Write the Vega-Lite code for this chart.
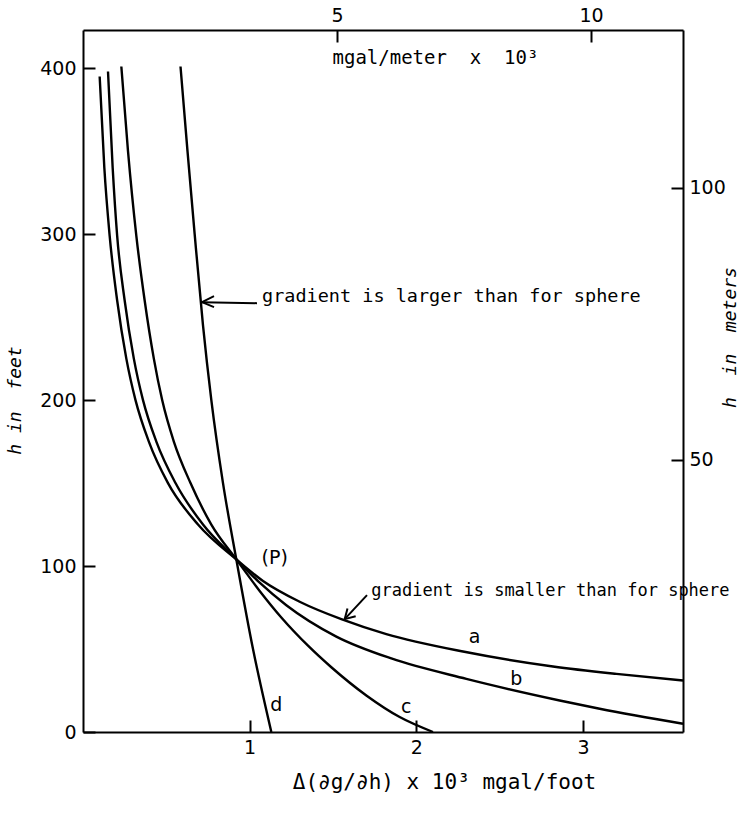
{
  "$schema": "https://vega.github.io/schema/vega-lite/v6.json",
  "width": 600,
  "height": 702,
  "autosize": {"type": "none"},
  "padding": {"left": 83, "top": 30, "right": 56, "bottom": 82},
  "background": "white",
  "config": {
    "view": {"stroke": null},
    "axis": {
      "domainColor": "black", "domainWidth": 2,
      "tickColor": "black", "tickWidth": 2, "tickSize": -12,
      "grid": false,
      "labelFont": "DejaVu Sans", "labelFontSize": 19, "labelColor": "black",
      "titleFont": "DejaVu Sans Mono", "titleFontSize": 19, "titleFontWeight": "normal", "titleColor": "black"
    }
  },
  "datasets": {
    "curves": [
      {"curve": "a", "x": 0.10, "h": 395}, {"curve": "a", "x": 0.128, "h": 340}, {"curve": "a", "x": 0.16, "h": 299},
      {"curve": "a", "x": 0.205, "h": 260}, {"curve": "a", "x": 0.26, "h": 225}, {"curve": "a", "x": 0.315, "h": 200},
      {"curve": "a", "x": 0.395, "h": 175}, {"curve": "a", "x": 0.51, "h": 150}, {"curve": "a", "x": 0.69, "h": 125},
      {"curve": "a", "x": 0.92, "h": 104}, {"curve": "a", "x": 1.08, "h": 91}, {"curve": "a", "x": 1.30, "h": 78.5},
      {"curve": "a", "x": 1.55, "h": 68}, {"curve": "a", "x": 1.82, "h": 59}, {"curve": "a", "x": 2.28, "h": 48.5},
      {"curve": "a", "x": 2.82, "h": 39.5}, {"curve": "a", "x": 3.2, "h": 35}, {"curve": "a", "x": 3.6, "h": 31},
      {"curve": "b", "x": 0.15, "h": 398}, {"curve": "b", "x": 0.178, "h": 340}, {"curve": "b", "x": 0.205, "h": 299},
      {"curve": "b", "x": 0.25, "h": 260}, {"curve": "b", "x": 0.305, "h": 225}, {"curve": "b", "x": 0.36, "h": 200},
      {"curve": "b", "x": 0.44, "h": 175}, {"curve": "b", "x": 0.555, "h": 150}, {"curve": "b", "x": 0.72, "h": 125},
      {"curve": "b", "x": 0.92, "h": 104}, {"curve": "b", "x": 1.06, "h": 90}, {"curve": "b", "x": 1.22, "h": 76.4},
      {"curve": "b", "x": 1.52, "h": 57.5}, {"curve": "b", "x": 1.85, "h": 44.3}, {"curve": "b", "x": 2.3, "h": 32},
      {"curve": "b", "x": 2.86, "h": 19}, {"curve": "b", "x": 3.1, "h": 14}, {"curve": "b", "x": 3.6, "h": 5},
      {"curve": "c", "x": 0.23, "h": 401}, {"curve": "c", "x": 0.27, "h": 350}, {"curve": "c", "x": 0.32, "h": 299},
      {"curve": "c", "x": 0.37, "h": 260}, {"curve": "c", "x": 0.425, "h": 225}, {"curve": "c", "x": 0.475, "h": 200},
      {"curve": "c", "x": 0.545, "h": 175}, {"curve": "c", "x": 0.645, "h": 150}, {"curve": "c", "x": 0.77, "h": 125},
      {"curve": "c", "x": 0.92, "h": 104}, {"curve": "c", "x": 1.06, "h": 85}, {"curve": "c", "x": 1.19, "h": 69},
      {"curve": "c", "x": 1.35, "h": 52}, {"curve": "c", "x": 1.49, "h": 39}, {"curve": "c", "x": 1.70, "h": 22},
      {"curve": "c", "x": 1.90, "h": 9}, {"curve": "c", "x": 2.1, "h": 0},
      {"curve": "d", "x": 0.585, "h": 401}, {"curve": "d", "x": 0.627, "h": 350}, {"curve": "d", "x": 0.67, "h": 300},
      {"curve": "d", "x": 0.72, "h": 245}, {"curve": "d", "x": 0.77, "h": 200}, {"curve": "d", "x": 0.84, "h": 150},
      {"curve": "d", "x": 0.92, "h": 104}, {"curve": "d", "x": 1.02, "h": 50}, {"curve": "d", "x": 1.13, "h": 0}
    ],
    "labels": [
      {"t": "a", "x": 2.35, "h": 57},
      {"t": "b", "x": 2.60, "h": 32},
      {"t": "c", "x": 1.94, "h": 15},
      {"t": "d", "x": 1.16, "h": 16},
      {"t": "(P)", "x": 1.15, "h": 105}
    ],
    "noteLarger": [
      {"t": "gradient is larger than for sphere", "x": 1.074, "h": 259}
    ],
    "noteSmaller": [
      {"t": "gradient is smaller than for sphere", "x": 1.73, "h": 82}
    ],
    "arrows": [
      {"x": 1.044, "h": 258.4, "x2": 0.714, "h2": 259},
      {"x": 0.714, "h": 259, "x2": 0.786, "h2": 262.7},
      {"x": 0.714, "h": 259, "x2": 0.786, "h2": 256.0},
      {"x": 1.704, "h": 82.5, "x2": 1.57, "h2": 68},
      {"x": 1.57, "h": 68, "x2": 1.636, "h2": 69.8},
      {"x": 1.57, "h": 68, "x2": 1.587, "h2": 74.4}
    ],
    "secondary": [
      {"mgm": 0, "hm": 0}
    ]
  },
  "resolve": {"scale": {"x": "independent", "y": "independent"}},
  "layer": [
    {
      "data": {"name": "curves"},
      "mark": {"type": "line", "color": "black", "strokeWidth": 2.4, "interpolate": "monotone"},
      "encoding": {
        "x": {
          "field": "x", "type": "quantitative",
          "scale": {"domain": [0, 3.6], "nice": false, "zero": false},
          "axis": {
            "orient": "bottom", "values": [1, 2, 3], "labelPadding": 18,
            "title": "Δ(∂g/∂h) x 10³ mgal/foot", "titleFontSize": 21,
            "titleX": 361, "titleY": 50, "titleAlign": "center", "titleBaseline": "middle"
          }
        },
        "y": {
          "field": "h", "type": "quantitative",
          "scale": {"domain": [0, 423], "nice": false, "zero": false},
          "axis": {
            "orient": "left", "values": [0, 100, 200, 300, 400], "labelPadding": 19,
            "title": "h\u00a0in\u00a0\u00a0feet", "titleFontStyle": "italic", "titleFontSize": 18,
            "titleX": -68, "titleY": 370, "titleAngle": -90, "titleAlign": "center", "titleBaseline": "middle"
          }
        },
        "detail": {"field": "curve"}
      }
    },
    {
      "data": {"name": "labels"},
      "mark": {"type": "text", "font": "DejaVu Sans", "fontSize": 19, "color": "black", "align": "center", "baseline": "middle"},
      "encoding": {
        "x": {"field": "x", "type": "quantitative", "scale": {"domain": [0, 3.6], "nice": false, "zero": false}, "axis": null},
        "y": {"field": "h", "type": "quantitative", "scale": {"domain": [0, 423], "nice": false, "zero": false}, "axis": null},
        "text": {"field": "t"}
      }
    },
    {
      "data": {"name": "noteLarger"},
      "mark": {"type": "text", "font": "DejaVu Sans Mono", "fontSize": 18.5, "color": "black", "align": "left", "baseline": "alphabetic"},
      "encoding": {
        "x": {"field": "x", "type": "quantitative", "scale": {"domain": [0, 3.6], "nice": false, "zero": false}, "axis": null},
        "y": {"field": "h", "type": "quantitative", "scale": {"domain": [0, 423], "nice": false, "zero": false}, "axis": null},
        "text": {"field": "t"}
      }
    },
    {
      "data": {"name": "noteSmaller"},
      "mark": {"type": "text", "font": "DejaVu Sans Mono", "fontSize": 17, "color": "black", "align": "left", "baseline": "alphabetic"},
      "encoding": {
        "x": {"field": "x", "type": "quantitative", "scale": {"domain": [0, 3.6], "nice": false, "zero": false}, "axis": null},
        "y": {"field": "h", "type": "quantitative", "scale": {"domain": [0, 423], "nice": false, "zero": false}, "axis": null},
        "text": {"field": "t"}
      }
    },
    {
      "data": {"name": "arrows"},
      "mark": {"type": "rule", "color": "black", "strokeWidth": 2},
      "encoding": {
        "x": {"field": "x", "type": "quantitative", "scale": {"domain": [0, 3.6], "nice": false, "zero": false}, "axis": null},
        "y": {"field": "h", "type": "quantitative", "scale": {"domain": [0, 423], "nice": false, "zero": false}, "axis": null},
        "x2": {"field": "x2"},
        "y2": {"field": "h2"}
      }
    },
    {
      "data": {"name": "secondary"},
      "mark": {"type": "point", "opacity": 0},
      "encoding": {
        "x": {
          "field": "mgm", "type": "quantitative",
          "scale": {"domain": [0, 11.811], "nice": false, "zero": false},
          "axis": {
            "orient": "top", "values": [5, 10], "labelPadding": 17,
            "title": "mgal/meter\u00a0\u00a0x\u00a0\u00a010³",
            "titleX": 249, "titleY": 27, "titleAlign": "left", "titleBaseline": "middle"
          }
        },
        "y": {
          "field": "hm", "type": "quantitative",
          "scale": {"domain": [0, 128.93], "nice": false, "zero": false},
          "axis": {
            "orient": "right", "values": [50, 100], "labelPadding": 18,
            "title": "h\u00a0\u00a0in\u00a0\u00a0meters", "titleFontStyle": "italic", "titleFontSize": 18,
            "titleX": 47, "titleY": 307, "titleAngle": -90, "titleAlign": "center", "titleBaseline": "middle"
          }
        }
      }
    }
  ]
}
